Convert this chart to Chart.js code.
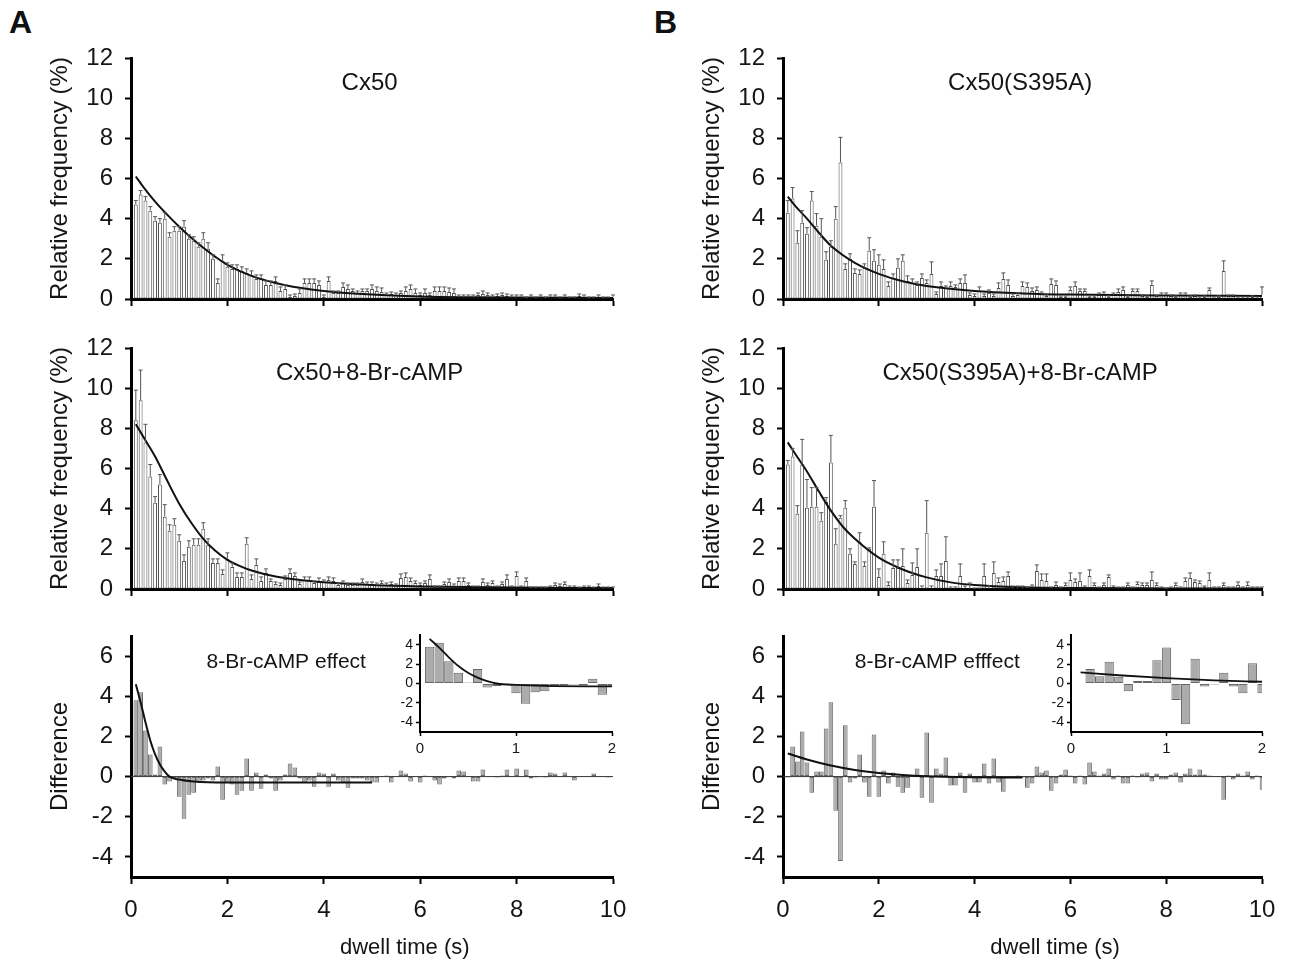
<!DOCTYPE html>
<html>
<head>
<meta charset="utf-8">
<title>Dwell time histograms</title>
<script src="https://cdn.jsdelivr.net/npm/chart.js@4.4.0/dist/chart.umd.min.js"></script>
<style>
  body { margin: 0; background: #fff; }
  #fig { position: relative; width: 1291px; height: 970px; overflow: hidden; }
  #fig canvas { position: absolute; }
  .letter { position: absolute; font: bold 32px "Liberation Sans", Arial, sans-serif; color: #111; }
</style>
</head>
<body>
<div id="fig">
  <div class="letter" style="left:9px;top:4px;">A</div>
  <div class="letter" style="left:654px;top:4px;">B</div>
  <canvas id="a1" width="620" height="275" style="left:20px;top:40px;"></canvas>
  <canvas id="a2" width="620" height="275" style="left:20px;top:330px;"></canvas>
  <canvas id="a3" width="620" height="347" style="left:20px;top:618px;"></canvas>
  <canvas id="b1" width="617" height="275" style="left:672px;top:40px;"></canvas>
  <canvas id="b2" width="617" height="275" style="left:672px;top:330px;"></canvas>
  <canvas id="b3" width="617" height="347" style="left:672px;top:618px;"></canvas>
  <canvas id="a3i" width="234" height="135" style="left:390px;top:625px;"></canvas>
  <canvas id="b3i" width="234" height="135" style="left:1040px;top:625px;"></canvas>
</div>
<script>
// bin centres (s) - 0.1 s bins, 0.1 ... 10.0
const dwellBins = Array.from({ length: 100 }, (_, i) => +((i + 1) * 0.1).toFixed(1));

// tick labels
const timeTicks = [0, 2, 4, 6, 8, 10];
const freqTicks = [0, 2, 4, 6, 8, 10, 12];
const diffTicks = [-4, -2, 0, 2, 4, 6];
const insetTimeTicks = [0, 1, 2];
const insetDiffTicks = [-4, -2, 0, 2, 4];

// A: Cx50 (relative frequency %)
const cx50 = [
  4.7, 5.2, 4.9, 4.4, 3.9, 3.8, 4.0, 3.1, 3.4, 3.4,
  3.6, 3.0, 2.9, 2.6, 3.0, 2.5, 2.0, 0.8, 1.9, 1.6,
  1.5, 1.5, 1.4, 1.3, 1.2, 1.0, 1.0, 0.7, 0.7, 0.9,
  0.4, 0.5, 0.1, 0.15, 0.3, 0.8, 0.8, 0.8, 0.7, 0.1,
  0.9, 0.3, 0.3, 0.6, 0.5, 0.4, 0.3, 0.4, 0.4, 0.5,
  0.4, 0.35, 0.2, 0.25, 0.2, 0.3, 0.4, 0.5, 0.3, 0.2,
  0.3, 0.2, 0.4, 0.4, 0.4, 0.35, 0.3, 0.1, 0.1, 0.1,
  0.1, 0.2, 0.25, 0.2, 0.1, 0.15, 0.2, 0.15, 0.1, 0.1,
  0.1, 0.05, 0.1, 0.05, 0.1, 0.05, 0.1, 0.1, 0.05, 0.1,
  0.05, 0.05, 0.15, 0.1, 0.05, 0.05, 0.1, 0.05, 0.05, 0.1
];
const cx50Err = [
  0.2, 0.2, 0.2, 0.2, 0.2, 0.2, 0.3, 0.2, 0.2, 0.2,
  0.3, 0.2, 0.2, 0.2, 0.3, 0.3, 0.2, 0.2, 0.3, 0.2,
  0.2, 0.2, 0.2, 0.2, 0.2, 0.2, 0.2, 0.2, 0.2, 0.2,
  0.2, 0.2, 0.1, 0.1, 0.2, 0.2, 0.2, 0.2, 0.2, 0.1,
  0.2, 0.1, 0.1, 0.2, 0.2, 0.1, 0.1, 0.1, 0.1, 0.2,
  0.2, 0.2, 0.1, 0.1, 0.1, 0.1, 0.2, 0.2, 0.2, 0.1,
  0.2, 0.1, 0.2, 0.2, 0.2, 0.2, 0.2, 0.1, 0.1, 0.1,
  0.1, 0.1, 0.15, 0.1, 0.1, 0.1, 0.1, 0.1, 0.1, 0.1,
  0.1, 0.05, 0.1, 0.05, 0.1, 0.05, 0.1, 0.1, 0.05, 0.1,
  0.05, 0.05, 0.1, 0.1, 0.05, 0.05, 0.1, 0.05, 0.05, 0.1
];
const cx50FitX = [0.1, 0.25, 0.5, 0.75, 1, 1.25, 1.5, 1.75, 2, 2.5, 3, 3.5, 4, 5, 6, 7, 8, 10];
const cx50FitY = [6.1, 5.6, 4.85, 4.2, 3.6, 3.05, 2.55, 2.1, 1.7, 1.15, 0.8, 0.56, 0.4, 0.22, 0.13, 0.09, 0.07, 0.05];

// A: Cx50 + 8-Br-cAMP
const cx50Camp = [
  8.4, 9.4, 7.3, 5.6, 4.3, 5.2, 3.6, 2.9, 3.2, 2.4,
  1.4, 2.1, 2.2, 2.2, 3.0, 2.2, 1.3, 1.3, 0.75, 1.5,
  1.1, 0.6, 0.6, 2.25, 0.5, 1.2, 0.4, 0.8, 0.4, 0.25,
  0.2, 0.5, 0.8, 0.65, 0.25, 0.45, 0.45, 0.3, 0.4, 0.35,
  0.45, 0.4, 0.2, 0.3, 0.2, 0.2, 0.2, 0.35, 0.25, 0.25,
  0.2, 0.3, 0.2, 0.25, 0.15, 0.55, 0.6, 0.4, 0.3, 0.2,
  0.3, 0.5, 0.1, 0.1, 0.25, 0.35, 0.15, 0.4, 0.4, 0.2,
  0.1, 0.1, 0.35, 0.2, 0.3, 0.1, 0.25, 0.5, 0.1, 0.65,
  0.1, 0.4, 0.05, 0.05, 0.05, 0.05, 0.1, 0.2, 0.15, 0.25,
  0.1, 0.1, 0.05, 0.1, 0.1, 0.05, 0.15, 0.05, 0.05, 0.05
];
const cx50CampErr = [
  1.5, 1.5, 0.9, 0.6, 0.3, 0.5, 0.6, 0.3, 0.3, 0.3,
  0.3, 0.3, 0.3, 0.3, 0.3, 0.3, 0.2, 0.2, 0.2, 0.3,
  0.2, 0.2, 0.2, 0.3, 0.2, 0.3, 0.2, 0.2, 0.1, 0.1,
  0.1, 0.15, 0.2, 0.15, 0.1, 0.15, 0.15, 0.1, 0.15, 0.1,
  0.15, 0.15, 0.1, 0.1, 0.1, 0.1, 0.1, 0.15, 0.1, 0.1,
  0.1, 0.1, 0.1, 0.1, 0.1, 0.2, 0.2, 0.15, 0.1, 0.1,
  0.1, 0.2, 0.05, 0.05, 0.1, 0.15, 0.1, 0.15, 0.15, 0.1,
  0.05, 0.05, 0.15, 0.1, 0.1, 0.05, 0.1, 0.2, 0.05, 0.2,
  0.05, 0.15, 0.05, 0.05, 0.05, 0.05, 0.05, 0.1, 0.1, 0.1,
  0.05, 0.05, 0.05, 0.05, 0.05, 0.05, 0.1, 0.05, 0.05, 0.05
];
const cx50CampFitX = [0.1, 0.25, 0.5, 0.75, 1, 1.25, 1.5, 1.75, 2, 2.25, 2.5, 3, 3.5, 4, 5, 6, 8, 10];
const cx50CampFitY = [8.2, 7.6, 6.6, 5.4, 4.25, 3.3, 2.5, 1.9, 1.45, 1.15, 0.92, 0.62, 0.45, 0.34, 0.2, 0.13, 0.07, 0.05];

// A: difference (8-Br-cAMP effect)
const cx50Diff = [
  3.8, 4.2, 2.3, 1.1, 0.1, 1.5, -0.4, -0.25, -0.1, -1.0,
  -2.1, -0.9, -0.8, -0.3, -0.2, -0.1, -0.2, 0.5, -1.15, -0.3,
  -0.4, -0.9, -0.7, 0.9, -0.7, 0.2, -0.6, 0.1, -0.1, -0.7,
  -0.2, 0.1, 0.65, 0.45, -0.1, -0.3, -0.2, -0.5, 0.2, 0.15,
  -0.5, 0.15, -0.2, -0.3, -0.55, -0.1, -0.1, -0.1, -0.2, -0.3,
  -0.3, 0.0, 0.05, -0.3, 0.0, 0.3, 0.15, -0.25, 0.0, -0.3,
  0.05, 0.0, -0.2, -0.4, -0.1, 0.0, -0.1, 0.3, 0.25, 0.0,
  -0.25, -0.25, 0.35, 0.0, 0.0, -0.05, 0.05, 0.35, 0.0, 0.4,
  0.0, 0.35, -0.1, -0.05, 0.0, -0.05, 0.2, 0.15, 0.0, 0.2,
  0.0, -0.2, 0.0, 0.0, 0.0, 0.15, 0.0, 0.0, -0.05, 0.0
];
const cx50DiffFitX = [0.1, 0.2, 0.3, 0.4, 0.5, 0.6, 0.7, 0.8, 1.0, 1.3, 2, 3, 5];
const cx50DiffFitY = [4.6, 3.7, 2.7, 1.8, 1.1, 0.6, 0.25, 0.0, -0.15, -0.25, -0.3, -0.3, -0.3];

// B: Cx50(S395A)
const s395a = [
  4.3, 5.0, 2.8, 3.8, 3.25, 4.9, 3.65, 3.1, 1.95, 2.6,
  4.0, 6.8, 1.5, 2.0, 1.3, 1.25, 1.55, 2.4, 1.9, 1.7,
  1.5, 0.65, 1.05, 1.55, 1.9, 0.9, 0.8, 0.7, 1.05, 0.8,
  1.25, 0.25, 0.65, 0.55, 0.65, 0.6, 0.8, 0.8, 0.2, 0.15,
  0.4, 0.15, 0.3, 0.15, 0.55, 1.0, 0.7, 0.15, 0.2, 0.65,
  0.6, 0.4, 0.45, 0.25, 0.15, 0.75, 0.7, 0.1, 0.1, 0.45,
  0.65, 0.4, 0.4, 0.1, 0.1, 0.2, 0.25, 0.1, 0.2, 0.35,
  0.45, 0.1, 0.4, 0.4, 0.15, 0.1, 0.7, 0.15, 0.2, 0.2,
  0.15, 0.1, 0.2, 0.2, 0.1, 0.15, 0.05, 0.1, 0.45, 0.05,
  0.1, 1.4, 0.15, 0.15, 0.05, 0.05, 0.05, 0.1, 0.05, 0.2
];
const s395aErr = [
  0.6, 0.55, 0.6, 0.6, 0.3, 0.45, 0.6, 0.9, 0.4, 0.3,
  0.6, 1.25, 0.25, 0.25, 0.2, 0.2, 0.2, 0.65, 0.55, 0.5,
  0.45, 0.2, 0.2, 0.45, 0.3, 0.25, 0.2, 0.15, 0.2, 0.15,
  0.6, 0.1, 0.2, 0.1, 0.2, 0.1, 0.2, 0.4, 0.1, 0.1,
  0.2, 0.1, 0.15, 0.1, 0.25, 0.3, 0.25, 0.1, 0.1, 0.2,
  0.2, 0.15, 0.15, 0.1, 0.05, 0.25, 0.2, 0.05, 0.05, 0.15,
  0.2, 0.1, 0.1, 0.05, 0.05, 0.1, 0.1, 0.05, 0.1, 0.15,
  0.15, 0.05, 0.1, 0.1, 0.05, 0.05, 0.2, 0.05, 0.1, 0.1,
  0.05, 0.05, 0.1, 0.1, 0.05, 0.05, 0.05, 0.05, 0.1, 0.05,
  0.05, 0.5, 0.05, 0.05, 0.05, 0.05, 0.05, 0.05, 0.05, 0.4
];
const s395aFitX = [0.1, 0.25, 0.5, 0.75, 1, 1.5, 2, 2.5, 3, 4, 5, 6, 8, 10];
const s395aFitY = [5.1, 4.65, 4.0, 3.3, 2.65, 1.8, 1.25, 0.88, 0.65, 0.4, 0.28, 0.22, 0.17, 0.15];

// B: Cx50(S395A) + 8-Br-cAMP
const s395aCamp = [
  6.2, 6.6, 3.75, 6.2, 4.05, 4.1, 4.1, 3.4, 4.35, 6.3,
  2.25, 3.55, 4.05, 1.75, 1.25, 2.35, 1.15, 2.0, 4.1, 0.6,
  1.75, 0.2, 1.05, 1.05, 1.15, 0.3, 0.7, 1.1, 0.05, 2.8,
  0.05, 0.65, 0.65, 1.4, 0.05, 0.05, 0.65, 0.05, 0.0, 0.0,
  0.0, 0.65, 0.05, 0.8, 0.35, 0.4, 0.65, 0.05, 0.05, 0.05,
  0.05, 0.1, 0.9, 0.45, 0.4, 0.05, 0.2, 0.05, 0.2, 0.45,
  0.35, 0.4, 0.1, 0.65, 0.2, 0.05, 0.2, 0.6, 0.1, 0.05,
  0.05, 0.2, 0.05, 0.25, 0.2, 0.2, 0.45, 0.2, 0.05, 0.0,
  0.05, 0.2, 0.05, 0.4, 0.55, 0.35, 0.3, 0.1, 0.45, 0.05,
  0.05, 0.2, 0.05, 0.05, 0.2, 0.05, 0.2, 0.05, 0.05, 0.05
];
const s395aCampErr = [
  0.2, 0.4, 0.4, 1.25, 1.4, 0.95, 0.95, 0.4, 0.2, 1.35,
  0.75, 0.1, 0.35, 0.25, 0.1, 0.45, 0.2, 0.05, 1.3, 0.4,
  0.6, 0.15, 0.4, 0.4, 0.85, 0.15, 0.6, 0.9, 0.1, 1.6,
  0.1, 0.3, 0.6, 1.2, 0.05, 0.05, 0.6, 0.1, 0.3, 0.05,
  0.05, 0.6, 0.1, 0.55, 0.2, 0.2, 0.2, 0.1, 0.1, 0.1,
  0.05, 0.1, 0.3, 0.3, 0.35, 0.05, 0.15, 0.05, 0.1, 0.35,
  0.15, 0.4, 0.05, 0.3, 0.1, 0.05, 0.1, 0.1, 0.05, 0.05,
  0.05, 0.1, 0.05, 0.1, 0.1, 0.1, 0.4, 0.1, 0.05, 0.05,
  0.05, 0.1, 0.05, 0.15, 0.25, 0.1, 0.1, 0.05, 0.35, 0.05,
  0.05, 0.1, 0.05, 0.05, 0.15, 0.05, 0.15, 0.05, 0.05, 0.05
];
const s395aCampFitX = [0.1, 0.25, 0.5, 0.75, 1, 1.25, 1.5, 2, 2.5, 3, 3.5, 4, 5, 6, 8, 10];
const s395aCampFitY = [7.3, 6.75, 5.85, 4.85, 3.9, 3.1, 2.5, 1.56, 0.97, 0.58, 0.33, 0.2, 0.09, 0.05, 0.03, 0.02];

// B: difference (8-Br-cAMP efffect)
const s395aDiff = [
  -0.05, 1.5, 0.75, 2.25, 0.7, -0.8, 0.25, 0.25, 2.4, 3.7,
  -1.7, -4.2, 2.55, -0.3, -0.1, 1.1, -0.3, -1.0, 2.1, -1.0,
  0.3, -0.35, 0.2, -0.5, -0.8, -0.55, 0.05, 0.4, -1.05, 2.2,
  -1.3, 0.4, 0.15, 0.95, -0.45, -0.45, 0.2, -0.8, 0.15, -0.3,
  -0.3, 0.65, -0.35, 0.9, -0.3, -0.75, 0.0, -0.05, 0.05, -0.05,
  -0.55, -0.35, 0.5, 0.2, 0.3, -0.7, -0.35, 0.1, 0.35, 0.05,
  -0.35, 0.05, -0.4, 0.7, 0.25, 0.05, 0.15, 0.4, -0.15, 0.05,
  -0.35, -0.35, 0.05, -0.05, 0.15, 0.2, -0.25, 0.15, -0.15, -0.15,
  0.1, 0.2, -0.3, 0.15, 0.4, 0.1, 0.35, 0.1, 0.05, 0.0,
  0.0, -1.15, 0.05, -0.15, 0.15, 0.05, 0.25, -0.15, 0.05, -0.65
];
const s395aDiffFitX = [0.1, 0.5, 1, 1.5, 2, 2.5, 3, 4, 5];
const s395aDiffFitY = [1.15, 0.85, 0.55, 0.33, 0.18, 0.08, 0.02, -0.03, -0.05];

const FONT = '"Liberation Sans", Arial, sans-serif';
const INK = '#151515';
Chart.defaults.font.family = FONT;
Chart.defaults.color = INK;

// Error bars on top of each bar
const errorBarPlugin = {
  id: 'errorBars',
  afterDatasetsDraw(chart) {
    const { ctx } = chart;
    const y = chart.scales.y;
    chart.data.datasets.forEach((ds, di) => {
      if (!ds.errors) return;
      const meta = chart.getDatasetMeta(di);
      ctx.save();
      ctx.strokeStyle = '#555';
      ctx.lineWidth = 1;
      meta.data.forEach((bar, i) => {
        const err = ds.errors[i];
        if (!err) return;
        const top = y.getPixelForValue(ds.data[i].y + err);
        ctx.beginPath();
        ctx.moveTo(bar.x, bar.y);
        ctx.lineTo(bar.x, top);
        ctx.moveTo(bar.x - 2, top);
        ctx.lineTo(bar.x + 2, top);
        ctx.stroke();
      });
      ctx.restore();
    });
  }
};

// zero line for difference plots
const zeroLinePlugin = {
  id: 'zeroLine',
  beforeDatasetsDraw(chart, args, opts) {
    if (!opts.show) return;
    const { ctx, chartArea } = chart;
    const y0 = chart.scales.y.getPixelForValue(0);
    ctx.save();
    ctx.strokeStyle = '#333';
    ctx.lineWidth = 1;
    ctx.beginPath();
    ctx.moveTo(chartArea.left, y0);
    ctx.lineTo(chartArea.right, y0);
    ctx.stroke();
    ctx.restore();
  }
};

// free texts placed in data units
const textPlugin = {
  id: 'panelTexts',
  afterDraw(chart, args, opts) {
    if (!opts.items) return;
    const { ctx } = chart;
    ctx.save();
    ctx.fillStyle = INK;
    ctx.textAlign = 'center';
    ctx.textBaseline = 'middle';
    opts.items.forEach((t) => {
      ctx.font = (t.size || 24) + 'px ' + FONT;
      ctx.fillText(t.text, chart.scales.x.getPixelForValue(t.x), chart.scales.y.getPixelForValue(t.y));
    });
    ctx.restore();
  }
};

function fixedTicks(list) {
  return (scale) => { scale.ticks = list.map((v) => ({ value: v })); };
}

function toPoints(xs, ys) {
  return ys.map((v, i) => ({ x: xs[i], y: v }));
}

function makePanel(id, cfg) {
  const inset = !!cfg.inset;
  const datasets = [
    {
      type: 'line',
      data: toPoints(cfg.fitX, cfg.fitY),
      borderColor: '#111',
      borderWidth: inset ? 1.8 : 2,
      pointRadius: 0,
      cubicInterpolationMode: 'monotone',
      order: 0
    },
    {
      type: 'bar',
      data: toPoints(cfg.bins, cfg.values),
      errors: cfg.errors || null,
      backgroundColor: cfg.diff ? '#acacac' : '#fff',
      borderColor: cfg.diff ? '#666' : '#505050',
      borderWidth: 1,
      borderSkipped: false,
      barPercentage: cfg.diff ? 0.97 : 0.8,
      categoryPercentage: 1,
      order: 1
    }
  ];
  return new Chart(document.getElementById(id), {
    type: 'bar',
    data: { datasets },
    plugins: [errorBarPlugin, zeroLinePlugin, textPlugin],
    options: {
      responsive: false,
      animation: false,
      devicePixelRatio: 1,
      layout: { padding: cfg.padding },
      plugins: {
        legend: { display: false },
        tooltip: { enabled: false },
        zeroLine: { show: cfg.diff && !inset },
        panelTexts: { items: cfg.texts || [] }
      },
      scales: {
        x: {
          type: 'linear',
          min: 0,
          max: cfg.xMax,
          offset: false,
          afterBuildTicks: fixedTicks(cfg.xTicks),
          afterFit: (s) => { s.height = cfg.xHeight; s.paddingLeft = 0; s.paddingRight = 0; },
          border: { display: true, color: '#000', width: inset ? 2 : 3 },
          grid: { display: true, offset: false, drawOnChartArea: false, tickLength: inset ? 4 : 7, tickColor: '#000', tickWidth: inset ? 1.5 : 2 },
          ticks: { display: cfg.xLabels, color: INK, font: { size: inset ? 15 : 24 }, padding: inset ? 4 : 12, maxRotation: 0 }
        },
        y: {
          type: 'linear',
          min: cfg.yMin,
          max: cfg.yMax,
          afterBuildTicks: fixedTicks(cfg.yTicks),
          afterFit: (s) => { s.width = cfg.yWidth; s.paddingTop = 0; s.paddingBottom = 0; },
          border: { display: true, color: '#000', width: inset ? 2 : 3 },
          grid: { display: true, drawOnChartArea: false, tickLength: inset ? 4 : 6, tickColor: '#000', tickWidth: inset ? 1.5 : 2 },
          ticks: { color: INK, font: { size: inset ? 14 : 24 }, padding: inset ? 3 : 12 },
          title: {
            display: !!cfg.yTitle,
            text: cfg.yTitle || '',
            color: INK,
            font: { size: 24 },
            padding: { top: 26, bottom: 0 }
          }
        }
      }
    }
  });
}

const topPad = { top: 18, right: 27, bottom: 6, left: 0 };
const botPad = { top: 18, right: 27, bottom: 0, left: 0 };
const insetPad = { top: 10, right: 12, bottom: 0, left: 0 };

function freqPanel(id, values, errors, fitX, fitY, title) {
  makePanel(id, {
    bins: dwellBins, values, errors, fitX, fitY,
    xMax: 10, xTicks: timeTicks, xLabels: false, xHeight: 10,
    yMin: 0, yMax: 12, yTicks: freqTicks, yWidth: 111,
    yTitle: 'Relative frequency (%)', padding: topPad,
    texts: [{ text: title, x: 4.95, y: 10.75 }]
  });
}

function diffPanel(id, values, fitX, fitY, title) {
  makePanel(id, {
    bins: dwellBins, values, fitX, fitY, diff: true,
    xMax: 10, xTicks: timeTicks, xLabels: true, xHeight: 88,
    yMin: -5, yMax: 7, yTicks: diffTicks, yWidth: 111,
    yTitle: 'Difference', padding: botPad,
    texts: [
      { text: title, x: 3.22, y: 5.7, size: 21 },
      { text: 'dwell time (s)', x: 5.68, y: -8.55, size: 22 }
    ]
  });
}

function insetPanel(id, values, fitX, fitY, yWidth) {
  const n = insetTimeTicks[insetTimeTicks.length - 1];
  const keep = fitX.map((x) => x <= n);
  makePanel(id, {
    inset: true, diff: true,
    bins: dwellBins.slice(0, 20), values: values.slice(0, 20),
    fitX: fitX.filter((_, i) => keep[i]), fitY: fitY.filter((_, i) => keep[i]),
    xMax: 2, xTicks: insetTimeTicks, xLabels: true, xHeight: 28,
    yMin: -5, yMax: 5, yTicks: insetDiffTicks, yWidth,
    padding: insetPad
  });
}

freqPanel('a1', cx50, cx50Err, cx50FitX, cx50FitY, 'Cx50');
freqPanel('a2', cx50Camp, cx50CampErr, cx50CampFitX, cx50CampFitY, 'Cx50+8-Br-cAMP');
diffPanel('a3', cx50Diff, cx50DiffFitX, cx50DiffFitY, '8-Br-cAMP effect');
freqPanel('b1', s395a, s395aErr, s395aFitX, s395aFitY, 'Cx50(S395A)');
freqPanel('b2', s395aCamp, s395aCampErr, s395aCampFitX, s395aCampFitY, 'Cx50(S395A)+8-Br-cAMP');
diffPanel('b3', s395aDiff, s395aDiffFitX, s395aDiffFitY, '8-Br-cAMP efffect');
insetPanel('a3i', cx50Diff, cx50DiffFitX, cx50DiffFitY, 30);
insetPanel('b3i', s395aDiff, s395aDiffFitX, s395aDiffFitY, 31);
</script>
</body>
</html>
